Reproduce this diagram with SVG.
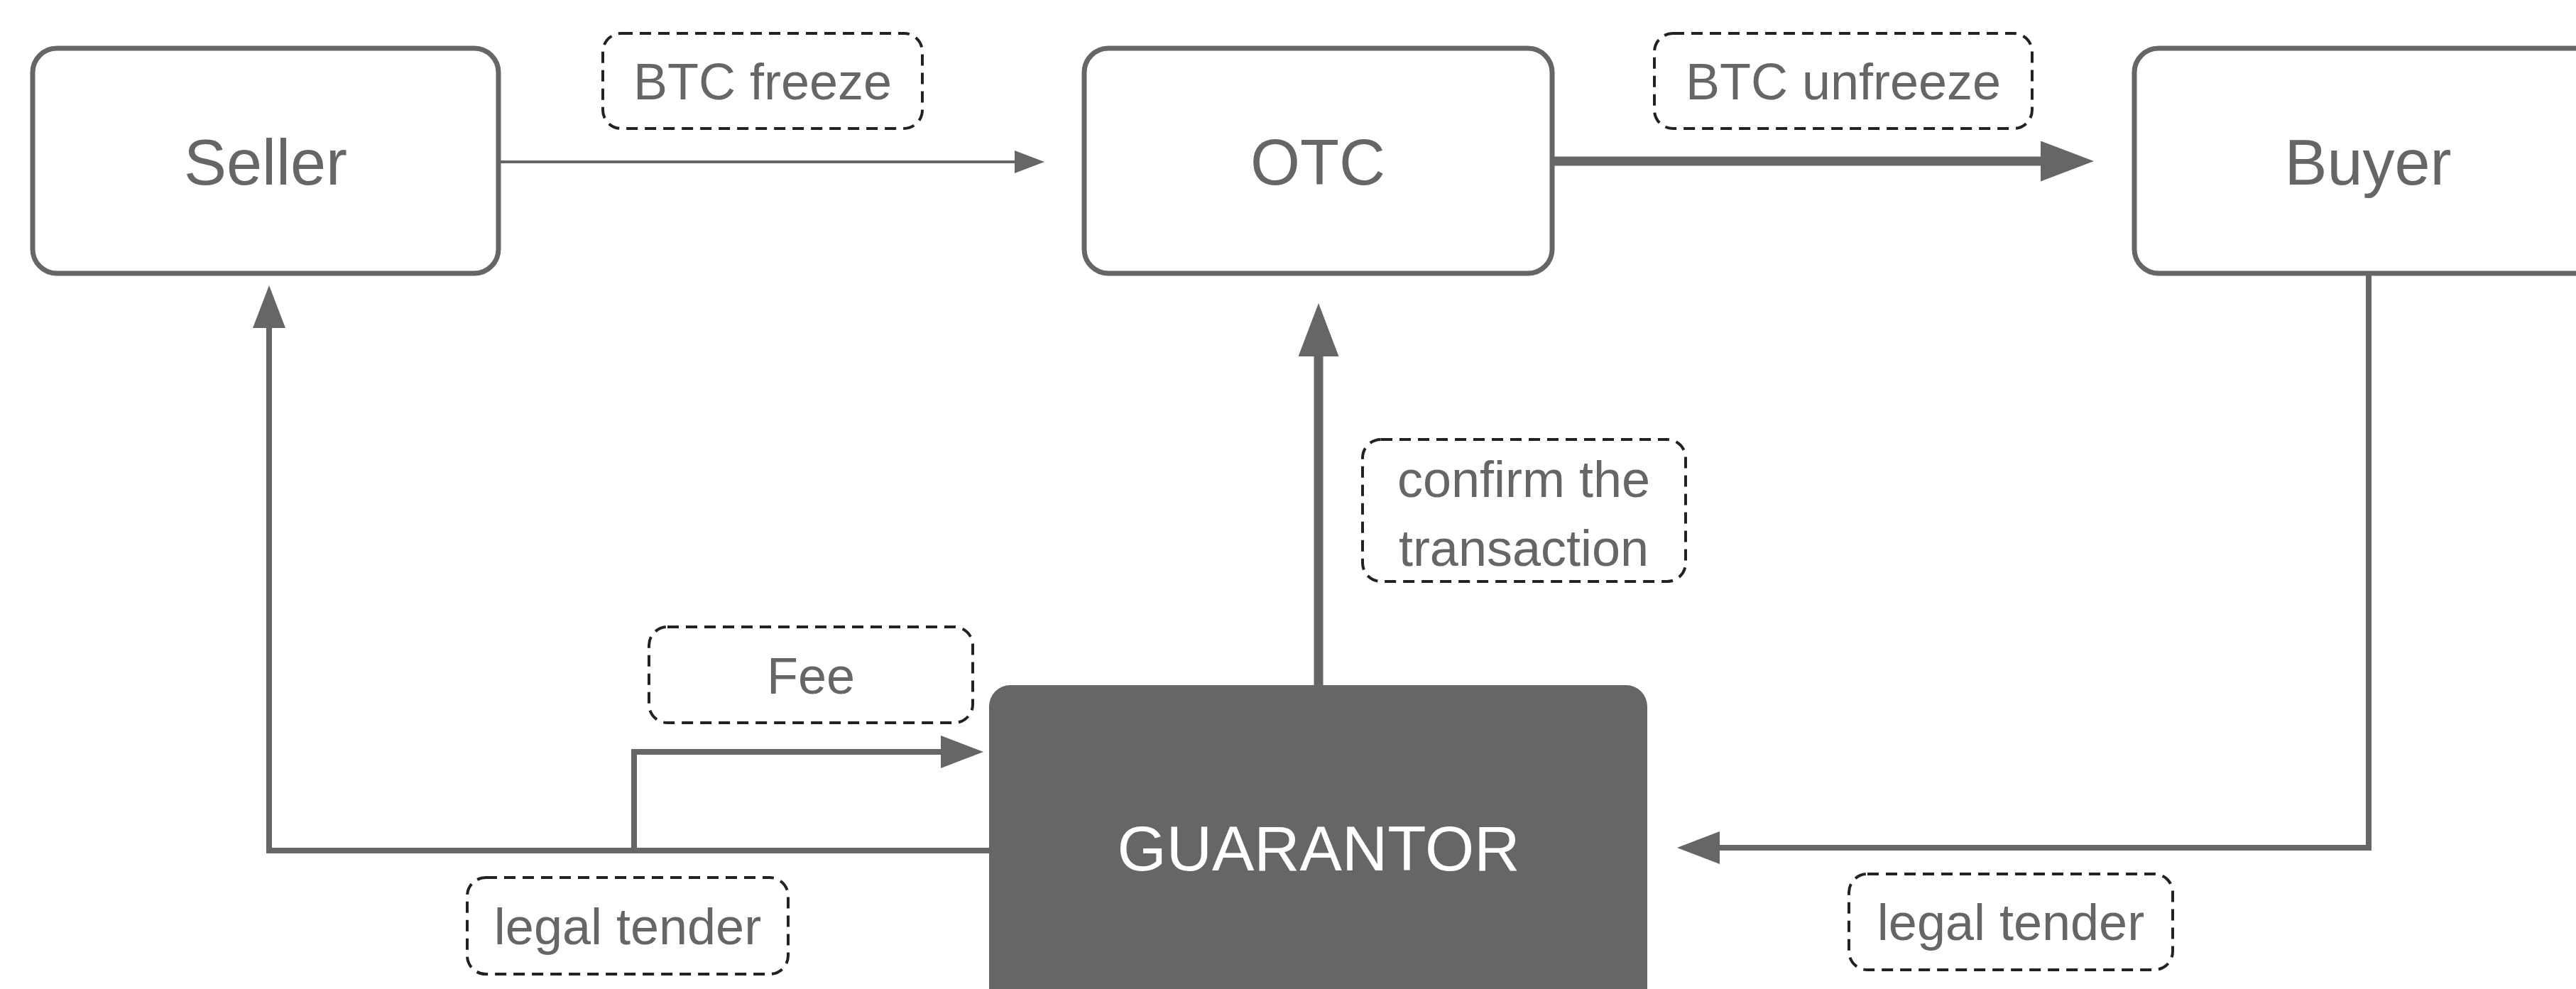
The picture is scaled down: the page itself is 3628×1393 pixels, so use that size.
<svg xmlns="http://www.w3.org/2000/svg" width="3628" height="1393" viewBox="0 0 3628 1393">
<defs>
<style>
.node{fill:#fff;stroke:#666;stroke-width:7}
.dark{fill:#666;stroke:none}
.nt{font-family:"Liberation Sans",Arial,sans-serif;font-size:90px;fill:#666;text-anchor:middle}
.gt{font-family:"Liberation Sans",Arial,sans-serif;font-size:89px;fill:#fff;text-anchor:middle}
.lb{fill:#fff;stroke:#222;stroke-width:4;stroke-dasharray:16 10}
.lt{font-family:"Liberation Sans",Arial,sans-serif;font-size:72px;fill:#666;text-anchor:middle}
.c{fill:none;stroke:#666;stroke-linejoin:miter}
</style>
<marker id="aS" markerUnits="userSpaceOnUse" markerWidth="42" markerHeight="32" refX="0" refY="16" orient="auto"><path d="M0,0 L42,16 L0,32 z" fill="#666"/></marker>
<marker id="aM" markerUnits="userSpaceOnUse" markerWidth="60" markerHeight="46" refX="0" refY="23" orient="auto"><path d="M0,0 L60,23 L0,46 z" fill="#666"/></marker>
<marker id="aL" markerUnits="userSpaceOnUse" markerWidth="75" markerHeight="57" refX="0" refY="28.5" orient="auto"><path d="M0,0 L75,28.5 L0,57 z" fill="#666"/></marker>
</defs>
<rect width="3628" height="1393" fill="#fff"/>
<g id="connectors">
<path class="c" d="M705,228 H1429" stroke-width="4" marker-end="url(#aS)"/>
<path class="c" d="M2189,227 H2874" stroke-width="13" marker-end="url(#aL)"/>
<path class="c" d="M1857,965 V502" stroke-width="13" marker-end="url(#aL)"/>
<path class="c" d="M3336,388 V1194 H2422" stroke-width="8" marker-end="url(#aM)"/>
<path class="c" d="M1393,1198 H379 V462" stroke-width="8" marker-end="url(#aM)"/>
<path class="c" d="M893,1198 V1059 H1325" stroke-width="8" marker-end="url(#aM)"/>
</g>
<g id="seller">
<rect class="node" x="46" y="68" width="656" height="317" rx="34"/>
<text class="nt" x="374" y="260">Seller</text>
</g>
<g id="otc">
<rect class="node" x="1527" y="68" width="659" height="317" rx="34"/>
<text class="nt" x="1856" y="260">OTC</text>
</g>
<g id="buyer">
<rect class="node" x="3006" y="68" width="659" height="317" rx="34"/>
<text class="nt" x="3335" y="260">Buyer</text>
</g>
<g id="guarantor">
<rect class="dark" x="1393" y="965" width="927" height="470" rx="30"/>
<text class="gt" x="1857" y="1226">GUARANTOR</text>
</g>
<g id="label-btc-freeze">
<rect class="lb" x="849" y="47" width="450" height="134" rx="26"/>
<text class="lt" x="1074" y="140">BTC freeze</text>
</g>
<g id="label-btc-unfreeze">
<rect class="lb" x="2330" y="47" width="532" height="134" rx="26"/>
<text class="lt" x="2596" y="140">BTC unfreeze</text>
</g>
<g id="label-confirm">
<rect class="lb" x="1919" y="619" width="455" height="200" rx="26"/>
<text class="lt" x="2146" y="700">confirm the</text>
<text class="lt" x="2146" y="797">transaction</text>
</g>
<g id="label-fee">
<rect class="lb" x="914" y="883" width="456" height="135" rx="26"/>
<text class="lt" x="1142" y="977">Fee</text>
</g>
<g id="label-legal-left">
<rect class="lb" x="658" y="1236" width="452" height="136" rx="26"/>
<text class="lt" x="884" y="1330">legal tender</text>
</g>
<g id="label-legal-right">
<rect class="lb" x="2604" y="1231" width="456" height="135" rx="26"/>
<text class="lt" x="2832" y="1324">legal tender</text>
</g>
</svg>
